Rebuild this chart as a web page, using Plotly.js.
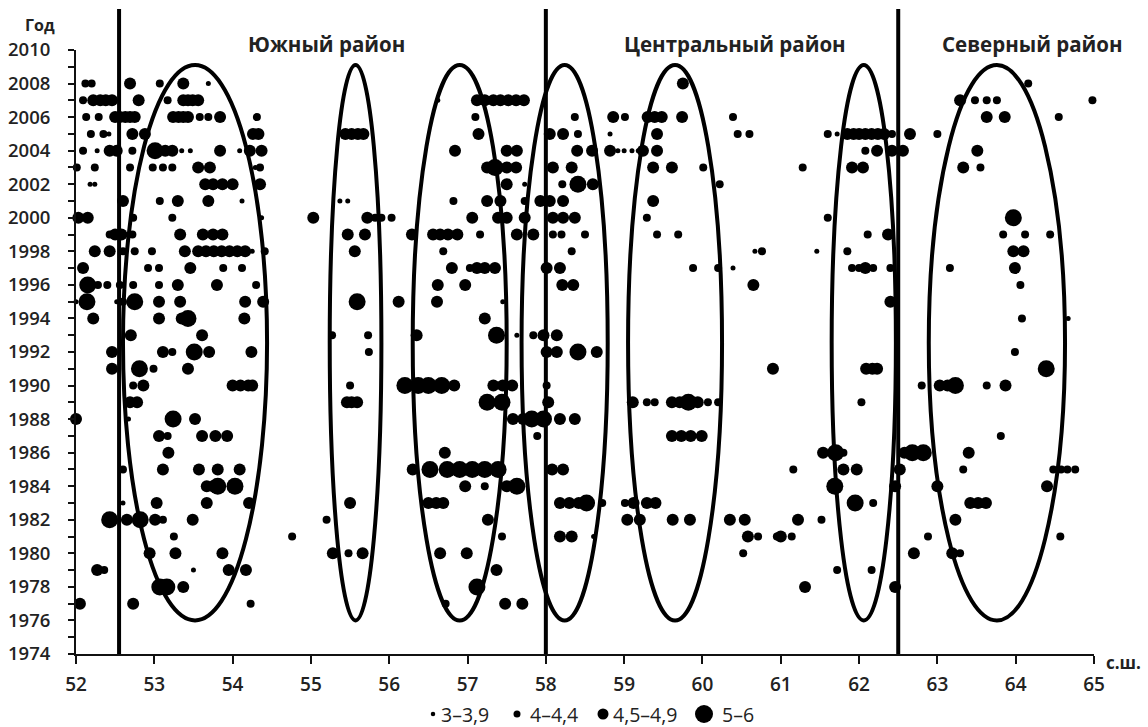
<!DOCTYPE html>
<html><head><meta charset="utf-8">
<script src="https://cdn.plot.ly/plotly-3.0.1.min.js"></script>
<style>body{margin:0;background:#fff}#c{width:1148px;height:727px}</style>
</head><body><div id="c"></div>
<script>
// Magnitude classes
const classNames = ['3–3,9', '4–4,4', '4,5–4,9', '5–6'];

// [year, latitude] pairs per magnitude class
const ptsM3 = [
[2008,53.69],[2007,56.62],[2005,52.42],[2005,58.82],[2005,61.72],
[2004,52.27],[2004,53.35],[2004,53.46],[2004,54.09],[2004,58.92],[2004,59.0],[2004,59.1],[2004,59.18],
[2003,54.29],[2002,52.18],[2002,52.24],[2002,57.73],[2001,54.12],[2001,55.37],[2001,55.47],
[2000,54.37],[1998,54.25],[1998,60.67],[1998,61.46],[1997,60.39],[1995,52.0],[1995,52.52],[1995,57.45],
[1994,64.67],[1993,57.63],[1988,52.67],[1983,52.6],[1981,58.61],[1979,53.5]
];
const ptsM4 = [
[2008,52.12],[2008,52.2],[2008,53.07],[2008,64.16],
[2007,52.09],[2007,53.17],[2007,63.48],[2007,63.63],[2007,63.76],[2007,64.98],
[2006,52.13],[2006,52.29],[2006,53.58],[2006,53.69],[2006,54.31],[2006,57.1],[2006,58.37],[2006,59.01],[2006,60.39],[2006,64.55],
[2005,52.19],[2005,52.35],[2005,58.41],[2005,60.45],[2005,60.6],[2005,61.6],[2005,62.42],[2005,63.0],
[2004,52.09],[2004,52.72],[2004,62.08],
[2003,52.01],[2003,52.24],[2003,52.69],[2003,52.98],[2003,53.11],[2003,53.23],[2003,54.35],[2003,60.01],[2003,61.28],[2003,63.55],
[2002,58.21],[2002,60.22],
[2001,53.07],[2001,56.82],[2001,57.73],
[2000,52.73],[2000,53.23],[2000,55.82],[2000,55.9],[2000,56.03],[2000,59.29],[2000,61.6],
[1999,52.43],[1999,52.72],[1999,57.16],[1999,58.09],[1999,58.2],[1999,58.5],[1999,59.42],[1999,59.69],[1999,62.11],[1999,63.84],[1999,64.12],[1999,64.44],
[1998,52.6],[1998,52.75],[1998,52.97],[1998,54.41],[1998,56.69],[1998,58.33],[1998,60.76],[1998,61.85],
[1997,52.92],[1997,53.06],[1997,53.88],[1997,54.12],[1997,57.03],[1997,59.88],[1997,60.2],[1997,61.91],[1997,62.0],[1997,62.18],[1997,62.4],[1997,63.16],
[1996,52.28],[1996,52.4],[1996,52.56],[1996,52.73],[1996,53.06],[1996,54.3],[1996,64.06],
[1995,52.6],[1994,64.08],
[1993,55.27],[1993,55.73],[1993,57.84],
[1992,53.23],[1992,55.74],[1992,63.99],
[1991,52.99],
[1990,52.73],[1990,55.5],[1990,58.01],[1990,62.8],[1990,63.63],
[1989,59.29],[1989,59.39],[1989,60.07],[1989,60.2],[1989,62.03],
[1987,53.17],[1987,57.89],[1987,63.81],
[1986,61.8],
[1985,52.6],[1985,61.16],[1985,63.33],[1985,64.48],[1985,64.58],[1985,64.66],[1985,64.76],
[1984,57.22],
[1983,58.72],[1983,59.01],[1983,62.18],
[1982,53.11],[1982,55.2],[1982,61.52],
[1981,53.25],[1981,54.76],[1981,57.44],[1981,60.71],[1981,60.95],[1981,61.14],[1981,62.88],[1981,64.57],
[1980,55.48],[1980,60.52],[1980,63.29],
[1979,52.36],[1979,61.72],[1979,62.16],
[1977,54.23],[1977,56.72]
];
const ptsM45 = [
[2008,52.69],[2008,53.37],[2008,59.75],
[2007,52.22],[2007,52.31],[2007,52.38],[2007,52.46],[2007,52.8],[2007,53.37],[2007,53.43],[2007,53.49],[2007,53.56],
[2007,57.12],[2007,57.22],[2007,57.33],[2007,57.42],[2007,57.52],[2007,57.62],[2007,57.72],[2007,63.29],
[2006,52.5],[2006,52.56],[2006,52.63],[2006,52.69],[2006,52.75],[2006,53.24],[2006,53.31],[2006,53.37],[2006,53.43],[2006,53.84],
[2006,58.86],[2006,59.3],[2006,59.39],[2006,59.48],[2006,59.74],[2006,63.63],[2006,63.86],
[2005,52.72],[2005,52.88],[2005,54.26],[2005,54.33],[2005,55.44],[2005,55.52],[2005,55.6],[2005,55.67],[2005,57.14],[2005,58.05],[2005,58.22],[2005,59.42],
[2005,61.85],[2005,61.93],[2005,62.0],[2005,62.08],[2005,62.16],[2005,62.24],[2005,62.32],[2005,62.65],
[2004,52.43],[2004,52.52],[2004,53.14],[2004,53.23],[2004,53.84],[2004,54.22],[2004,54.37],[2004,56.84],[2004,57.5],[2004,57.63],
[2004,58.4],[2004,58.59],[2004,58.82],[2004,59.24],[2004,59.42],[2004,62.23],[2004,62.42],[2004,62.56],[2004,63.51],
[2003,53.56],[2003,53.71],[2003,57.25],[2003,57.5],[2003,57.62],[2003,58.09],[2003,58.33],[2003,59.37],[2003,59.61],[2003,61.91],[2003,62.05],[2003,63.33],
[2002,53.65],[2002,53.75],[2002,53.87],[2002,54.0],[2002,54.35],[2002,57.5],[2002,58.6],
[2001,52.6],[2001,53.3],[2001,53.69],[2001,57.25],[2001,57.42],[2001,57.93],[2001,58.05],[2001,58.22],[2001,59.37],
[2000,52.03],[2000,52.15],[2000,55.03],[2000,55.72],[2000,57.06],[2000,57.39],[2000,57.5],[2000,57.73],[2000,58.09],[2000,58.22],[2000,58.37],
[1999,52.5],[1999,52.58],[1999,53.33],[1999,53.62],[1999,53.75],[1999,53.87],[1999,55.47],[1999,55.69],[1999,56.29],[1999,56.56],[1999,56.65],[1999,56.75],[1999,56.87],[1999,57.63],[1999,57.84],[1999,62.37],
[1998,52.24],[1998,52.43],[1998,53.39],[1998,53.56],[1998,53.66],[1998,53.76],[1998,53.86],[1998,53.96],[1998,54.06],[1998,54.16],[1998,55.56],[1998,63.97],[1998,64.1],
[1997,52.09],[1997,53.46],[1997,56.8],[1997,57.12],[1997,57.22],[1997,57.35],[1997,58.01],[1997,58.18],[1997,62.08],[1997,63.99],
[1996,53.3],[1996,53.8],[1996,56.62],[1996,56.97],[1996,58.21],[1996,58.35],[1996,60.65],
[1995,53.06],[1995,53.33],[1995,54.16],[1995,54.39],[1995,56.12],[1995,56.61],[1995,62.4],
[1994,52.22],[1994,53.06],[1994,53.35],[1994,54.15],[1994,57.22],
[1993,52.7],[1993,53.61],[1993,56.35],[1993,57.97],[1993,58.14],
[1992,52.46],[1992,53.11],[1992,53.7],[1992,54.24],[1992,58.01],[1992,58.14],[1992,58.65],
[1991,52.46],[1991,53.43],[1991,60.9],[1991,62.09],[1991,62.17],[1991,62.23],
[1990,52.86],[1990,54.0],[1990,54.1],[1990,54.2],[1990,54.25],[1990,56.83],[1990,57.33],[1990,57.45],[1990,57.57],[1990,63.03],[1990,63.13],[1990,63.87],
[1989,52.69],[1989,52.78],[1989,55.46],[1989,55.52],[1989,55.59],[1989,58.03],[1989,59.11],[1989,59.61],[1989,59.71],[1989,59.94],
[1988,52.0],[1988,53.52],[1988,57.58],[1988,57.71],[1988,58.18],[1988,58.37],
[1987,53.06],[1987,53.61],[1987,53.78],[1987,53.93],[1987,59.61],[1987,59.73],[1987,59.85],[1987,59.99],
[1986,53.18],[1986,56.71],[1986,61.54],[1986,62.58],[1986,63.4],
[1985,53.11],[1985,53.57],[1985,53.81],[1985,54.09],[1985,56.3],[1985,58.08],[1985,58.22],[1985,61.8],[1985,61.97],[1985,62.52],
[1984,53.67],[1984,53.75],[1984,56.97],[1984,57.5],[1984,62.46],[1984,63.0],[1984,64.4],
[1983,53.03],[1983,53.67],[1983,54.21],[1983,55.5],[1983,56.5],[1983,56.6],[1983,56.69],[1983,58.18],[1983,58.3],[1983,58.42],[1983,59.12],[1983,59.29],[1983,59.4],[1983,63.42],[1983,63.52],[1983,63.62],
[1982,52.65],[1982,53.01],[1982,53.49],[1982,57.26],[1982,59.04],[1982,59.2],[1982,59.62],[1982,59.84],[1982,60.35],[1982,60.54],[1982,61.22],[1982,63.23],
[1981,58.18],[1981,58.33],[1981,60.58],[1981,61.0],
[1980,52.94],[1980,53.27],[1980,53.87],[1980,55.28],[1980,55.66],[1980,56.65],[1980,56.99],[1980,62.7],[1980,63.19],
[1979,52.27],[1979,53.95],[1979,54.17],[1979,57.37],
[1978,53.37],[1978,61.31],[1978,62.46],
[1977,52.05],[1977,52.73],[1977,57.48],[1977,57.7]
];
const ptsM5 = [
[2004,53.01],[2003,57.35],[2002,58.41],[2000,63.97],
[1996,52.15],[1995,52.14],[1995,52.75],[1995,55.59],[1994,53.43],[1993,57.37],
[1992,53.51],[1992,58.41],[1991,52.81],[1991,64.39],
[1990,56.2],[1990,56.37],[1990,56.5],[1990,56.67],[1990,63.23],
[1989,57.25],[1989,57.44],[1989,59.82],
[1988,53.24],[1988,57.82],[1988,57.97],
[1986,61.7],[1986,62.68],[1986,62.82],
[1985,56.52],[1985,56.74],[1985,56.9],[1985,57.06],[1985,57.22],[1985,57.39],
[1984,53.81],[1984,54.03],[1984,57.63],[1984,61.69],
[1983,58.52],[1983,61.95],
[1982,52.43],[1982,52.82],
[1978,53.07],[1978,53.16],[1978,57.12]
];

// Boundaries between districts (latitude)
const boundaries = [52.55, 58.0, 62.5];
// Cluster ellipses: [centre lat, half-width lat]
const ellipseLat = [[53.52,0.92],[55.57,0.33],[56.9,0.6],[58.24,0.55],[59.65,0.6],[62.06,0.41],[63.76,0.87]];
const ellipseYears = [1976, 2009.1];
// District labels: [name, centre lat]
const districts = [['Южный район',55.2],['Центральный район',60.42],['Северный район',64.22]];

const groups = [ptsM3, ptsM4, ptsM45, ptsM5];
const sizes = [5, 8, 12, 17];
const legendSizes = [4.5, 7, 11, 18];

const traces = groups.map((g, i) => ({
  type: 'scatter', mode: 'markers', name: classNames[i], showlegend: false,
  x: g.map(p => p[1]), y: g.map(p => p[0]),
  marker: {color: '#000', size: sizes[i], line: {width: 0}},
  cliponaxis: false, hoverinfo: 'x+y'
}));

const FONT = '"Open Sans", "Noto Sans", sans-serif';
const W = 1148, H = 727, ML = 76, MR = 54, MT = 50, MB = 73;
const PW = W - ML - MR, PH = H - MT - MB;
const px2paperX = p => (p - ML) / PW;
const px2paperY = p => (H - MB - p) / PH;

const shapes = [];
boundaries.forEach(b => shapes.push({type:'line', xref:'x', yref:'paper', x0:b, x1:b, y0:0, y1:px2paperY(9), line:{color:'#000', width:4}}));
ellipseLat.forEach(e => shapes.push({type:'circle', xref:'x', yref:'y', x0:e[0]-e[1], x1:e[0]+e[1], y0:ellipseYears[0], y1:ellipseYears[1], line:{color:'#000', width:4}}));

const annotations = districts.map(d => ({
  text: d[0], x: d[1], xref:'x', y: px2paperY(44), yref:'paper', yanchor:'middle', xanchor:'center', showarrow:false,
  font:{family:FONT, size:20.5, color:'#222', weight:700}
}));
annotations.push({text:'Год', xref:'paper', yref:'paper', x:px2paperX(40), y:px2paperY(25), xanchor:'center', yanchor:'middle', showarrow:false, font:{family:FONT, size:16, color:'#222', weight:700}});
annotations.push({text:'с.ш.', xref:'paper', yref:'paper', x:px2paperX(1104), y:px2paperY(662), xanchor:'left', yanchor:'middle', showarrow:false, font:{family:FONT, size:17, color:'#222', weight:700}});

// Legend (drawn as marker symbols + labels)
const legDot = [433, 517, 603, 704], legText = [440, 529, 612, 721], legY = 714;
classNames.forEach((n, i) => {
  const r = legendSizes[i] / 2;
  shapes.push({type:'circle', xref:'paper', yref:'paper', xsizemode:'pixel', ysizemode:'pixel',
    xanchor:px2paperX(legDot[i]), yanchor:px2paperY(legY), x0:-r, x1:r, y0:-r, y1:r, fillcolor:'#000', line:{width:0}});
  annotations.push({text:n, xref:'paper', yref:'paper', x:px2paperX(legText[i]), y:px2paperY(legY), xanchor:'left', yanchor:'middle',
    showarrow:false, borderpad:0, font:{family:FONT, size:19.5, color:'#222'}});
});

const layout = {
  width:W, height:H,
  margin:{l:ML, r:MR, t:MT, b:MB, autoexpand:false},
  paper_bgcolor:'#fff', plot_bgcolor:'#fff',
  showlegend:false,
  xaxis:{range:[52,65], dtick:1, tick0:52, showgrid:false, zeroline:false, showline:true, linecolor:'#111', linewidth:2,
    ticks:'outside', ticklen:8, tickwidth:2, tickcolor:'#111', ticklabelstandoff:4, tickfont:{family:FONT, size:19, color:'#222', weight:600}},
  yaxis:{range:[1974,2010], dtick:2, tick0:1974, showgrid:false, zeroline:false, showline:true, linecolor:'#111', linewidth:2,
    ticks:'outside', ticklen:6, tickwidth:2, tickcolor:'#111', ticklabelstandoff:14,
    minor:{dtick:1, ticks:'outside', ticklen:6, tickwidth:2, tickcolor:'#111', showgrid:false},
    tickfont:{family:FONT, size:18.5, color:'#222', weight:600}},
  shapes: shapes, annotations: annotations
};
Plotly.newPlot('c', traces, layout, {displayModeBar:false, staticPlot:true});
</script></body></html>
